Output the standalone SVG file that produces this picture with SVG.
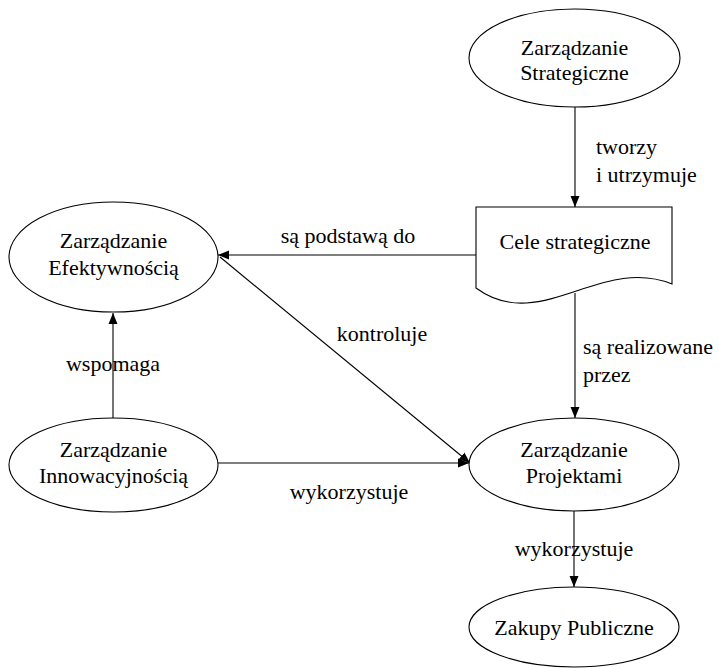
<svg xmlns="http://www.w3.org/2000/svg" width="719" height="668" viewBox="0 0 719 668">
<defs>
<marker id="arr" markerUnits="userSpaceOnUse" markerWidth="12" markerHeight="10" refX="11" refY="5" orient="auto">
<path d="M0,0.5 L11,5 L0,9.5 z" fill="#000"/>
</marker>
</defs>
<rect width="719" height="668" fill="#fff"/>
<g id="connectors" fill="none" stroke="#000" stroke-width="1.1">
<line marker-end="url(#arr)" x1="575" y1="107" x2="575" y2="207"/>
<line marker-end="url(#arr)" x1="476" y1="255" x2="218" y2="255"/>
<line marker-end="url(#arr)" x1="113" y1="418" x2="113" y2="313"/>
<line marker-end="url(#arr)" x1="220" y1="257" x2="470" y2="463"/>
<line marker-end="url(#arr)" x1="218" y1="463" x2="469" y2="463"/>
<line marker-end="url(#arr)" x1="575" y1="293" x2="575" y2="418"/>
<line marker-end="url(#arr)" x1="574" y1="511" x2="574" y2="587"/>
</g>
<g id="labels" fill="#000" font-family="Times New Roman, Liberation Serif, serif" font-size="22px">
<text x="596" y="154">tworzy</text>
<text x="596" y="182">i utrzymuje</text>
<text x="583" y="354">są realizowane</text>
<text x="583" y="382">przez</text>
<text text-anchor="middle" x="348" y="243">są podstawą do</text>
<text text-anchor="middle" x="382" y="341">kontroluje</text>
<text text-anchor="middle" x="113" y="371">wspomaga</text>
<text text-anchor="middle" x="349" y="499">wykorzystuje</text>
<text text-anchor="middle" x="574" y="556">wykorzystuje</text>
</g>
<g font-family="Times New Roman, Liberation Serif, serif" font-size="22px" text-anchor="middle" fill="#000">
<g id="strategiczne">
<ellipse fill="#fff" stroke="#000" stroke-width="1.1" cx="574.5" cy="58" rx="105.5" ry="49"/>
<text x="574.5" y="55">Zarządzanie</text>
<text x="574.5" y="80">Strategiczne</text>
</g>
<g id="cele">
<path fill="#fff" stroke="#000" stroke-width="1.1" d="M476,207 H672 V284 C600,255 540,335 476,288 Z"/>
<text x="575" y="249">Cele strategiczne</text>
</g>
<g id="efektywnosc">
<ellipse fill="#fff" stroke="#000" stroke-width="1.1" cx="113.5" cy="257" rx="104.5" ry="55"/>
<text x="113.5" y="248">Zarządzanie</text>
<text x="113.5" y="275">Efektywnością</text>
</g>
<g id="innowacyjnosc">
<ellipse fill="#fff" stroke="#000" stroke-width="1.1" cx="113.5" cy="465" rx="104.5" ry="47"/>
<text x="113.5" y="457">Zarządzanie</text>
<text x="113.5" y="483">Innowacyjnością</text>
</g>
<g id="projektami">
<ellipse fill="#fff" stroke="#000" stroke-width="1.1" cx="574" cy="464.5" rx="105" ry="46.5"/>
<text x="574" y="457">Zarządzanie</text>
<text x="574" y="483">Projektami</text>
</g>
<g id="zakupy">
<ellipse fill="#fff" stroke="#000" stroke-width="1.1" cx="574" cy="627" rx="105" ry="40"/>
<text x="574" y="635">Zakupy Publiczne</text>
</g>
</g>
</svg>
